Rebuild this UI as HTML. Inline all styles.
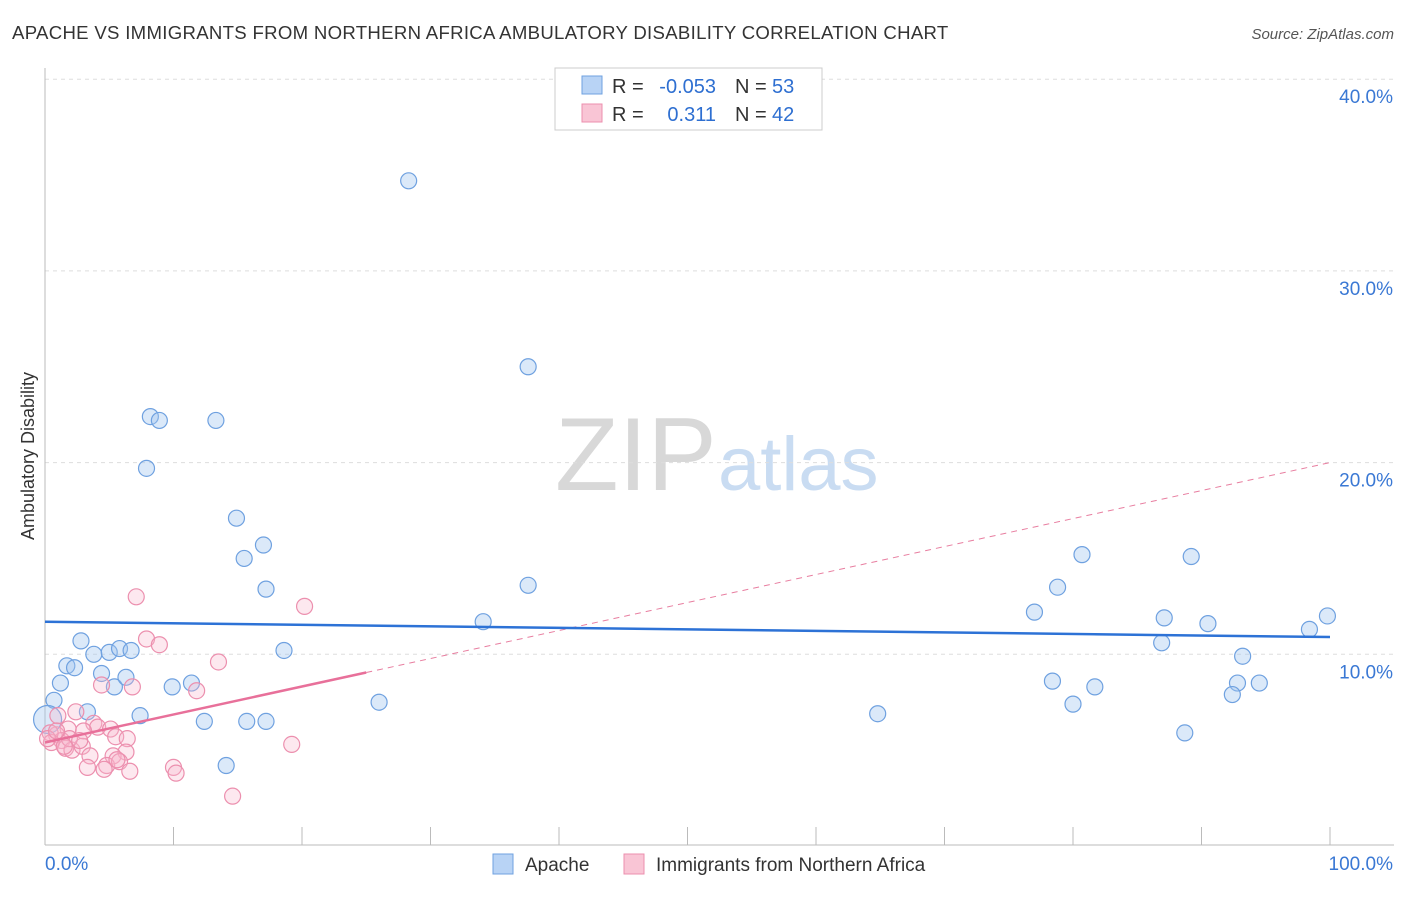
<!DOCTYPE html>
<html><head><meta charset="utf-8"><style>
body{margin:0;background:#fff;font-family:"Liberation Sans",sans-serif;}
svg text{font-family:"Liberation Sans",sans-serif;}
</style></head><body>
<svg id="chart" width="1406" height="892" xmlns="http://www.w3.org/2000/svg">
<text x="12" y="39" font-size="18.6" letter-spacing="0.3" fill="#333">APACHE VS IMMIGRANTS FROM NORTHERN AFRICA AMBULATORY DISABILITY CORRELATION CHART</text>
<text x="1394" y="39" font-size="15" fill="#555" text-anchor="end" font-style="italic">Source: ZipAtlas.com</text>
<text x="555" y="490" font-size="104" fill="#d8d8d8" font-family="Liberation Serif">ZIP</text>
<text x="718" y="490" font-size="76" fill="#c9dcf2">atlas</text>
<text transform="translate(34,456) rotate(-90)" font-size="18" fill="#333" text-anchor="middle">Ambulatory Disability</text>
<g id="grid"></g><g id="marks"></g>
<g>
<rect x="555" y="68" width="267" height="62" fill="#fff" stroke="#ccc"/>
<rect x="582" y="76" width="20" height="18" fill="#b8d3f5" stroke="#6fa1e0"/>
<rect x="582" y="104" width="20" height="18" fill="#f9c5d5" stroke="#ec8fae"/>
<text x="612" y="93" font-size="20" fill="#333">R =</text>
<text x="716" y="93" font-size="20" fill="#2e6fd1" text-anchor="end">-0.053</text>
<text x="735" y="93" font-size="20" fill="#333">N =</text>
<text x="772" y="93" font-size="20" fill="#2e6fd1">53</text>
<text x="612" y="121" font-size="20" fill="#333">R =</text>
<text x="716" y="121" font-size="20" fill="#2e6fd1" text-anchor="end">0.311</text>
<text x="735" y="121" font-size="20" fill="#333">N =</text>
<text x="772" y="121" font-size="20" fill="#2e6fd1">42</text>
</g>
<g>
<rect x="493" y="854" width="20" height="20" fill="#b8d3f5" stroke="#6fa1e0"/>
<text x="525" y="871" font-size="19" fill="#333">Apache</text>
<rect x="624" y="854" width="20" height="20" fill="#f9c5d5" stroke="#ec8fae"/>
<text x="656" y="871" font-size="19" fill="#333">Immigrants from Northern Africa</text>
</g>
</svg>
<script>
const yTicks=[10,20,30,40];
const yTickLabels=["10.0%","20.0%","30.0%","40.0%"];
const xTickLabels=["0.0%","100.0%"];
const apacheX=[28.3,37.6,8.2,8.9,13.3,7.9,14.9,17.0,15.5,17.2,37.6,34.1,2.8,1.7,2.3,3.8,5.0,5.8,6.7,18.6,1.2,4.4,5.4,6.3,9.9,11.4,0.7,3.3,7.4,12.4,15.7,17.2,26.0,14.1,64.8,80.7,78.8,77.0,87.1,89.2,90.5,86.9,99.8,98.4,93.2,78.4,81.7,80.0,92.8,92.4,94.5,88.7,0.2];
const apacheY=[34.7,25.0,22.4,22.2,22.2,19.7,17.1,15.7,15.0,13.4,13.6,11.7,10.7,9.4,9.3,10.0,10.1,10.3,10.2,10.2,8.5,9.0,8.3,8.8,8.3,8.5,7.6,7.0,6.8,6.5,6.5,6.5,7.5,4.2,6.9,15.2,13.5,12.2,11.9,15.1,11.6,10.6,12.0,11.3,9.9,8.6,8.3,7.4,8.5,7.9,8.5,5.9,6.6];
const africaX=[7.1,20.2,7.9,8.9,13.5,4.4,6.8,11.8,2.4,3.8,4.1,3.0,5.1,1.8,0.9,1.3,0.4,0.5,1.6,2.1,2.9,3.5,5.5,6.4,6.3,5.3,4.8,5.8,5.6,3.3,4.6,6.6,10.0,10.2,19.2,14.6,1.0,0.2,1.9,0.9,1.5,2.7];
const africaY=[13.0,12.5,10.8,10.5,9.6,8.4,8.3,8.1,7.0,6.4,6.2,6.0,6.1,6.1,5.8,5.5,5.9,5.4,5.1,5.0,5.2,4.7,5.7,5.6,4.9,4.7,4.2,4.4,4.5,4.1,4.0,3.9,4.1,3.8,5.3,2.6,6.8,5.6,5.6,6.0,5.2,5.5];
const apacheTrend=[11.7,10.9];
const africaTrend=[5.4,20.0];
const africaSolidEnd=25;
const NS="http://www.w3.org/2000/svg";
const X=v=>45+v*12.85, Y=v=>846-v*19.17;
function mk(t,a,p){const e=document.createElementNS(NS,t);for(const k in a)e.setAttribute(k,a[k]);p.appendChild(e);return e;}
const g=document.getElementById('grid'), m=document.getElementById('marks');
yTicks.forEach((t,i)=>{
 const l=mk('line',{x1:45,x2:1394,y1:Y(t),y2:Y(t),stroke:'#ddd','stroke-dasharray':'4,4'},g);
 
 
 const tx=mk('text',{x:1393,y:Y(t)+24,'font-size':19,fill:'#3a78d4','text-anchor':'end'},g);
 tx.textContent=yTickLabels[i];
 
 
});
const ax=mk('line',{x1:45,x2:45,y1:68,y2:845,stroke:'#bbb'},g);


const bx=mk('line',{x1:45,x2:1394,y1:845,y2:845,stroke:'#bbb'},g);


for(let i=0;i<=10;i++){const t=mk('line',{x1:X(i*10),x2:X(i*10),y1:827,y2:845,stroke:'#bbb'},g);
 
 }
[[X(0),'start',0],[1393,'end',1]].forEach(([x,a,i])=>{const t=mk('text',{x:x,y:870,'font-size':19,fill:'#3a78d4','text-anchor':a},g);t.textContent=xTickLabels[i];
 
 });
apacheX.forEach((v,i)=>{const c=mk('circle',{cx:X(v),cy:Y(apacheY[i]),r:i==apacheX.length-1?14:8,fill:'rgba(160,196,240,0.38)',stroke:'#6fa1e0','stroke-width':1.2},m);
 
 });
africaX.forEach((v,i)=>{const c=mk('circle',{cx:X(v),cy:Y(africaY[i]),r:8,fill:'rgba(248,184,204,0.32)',stroke:'#ec8fae','stroke-width':1.2},m);
 
 });
const ay=v=>africaTrend[0]+(africaTrend[1]-africaTrend[0])*v/100;
const d=mk('line',{x1:X(africaSolidEnd),y1:Y(ay(africaSolidEnd)),x2:X(100),y2:Y(ay(100)),stroke:'#e87ea0','stroke-dasharray':'6,5','stroke-width':1},m);


const s=mk('line',{x1:X(0),y1:Y(ay(0)),x2:X(africaSolidEnd),y2:Y(ay(africaSolidEnd)),stroke:'#e8709a','stroke-width':2.5},m);


const b=mk('line',{x1:X(0),y1:Y(apacheTrend[0]),x2:X(100),y2:Y(apacheTrend[1]),stroke:'#2d72d6','stroke-width':2.5},m);


</script>
</body></html>
